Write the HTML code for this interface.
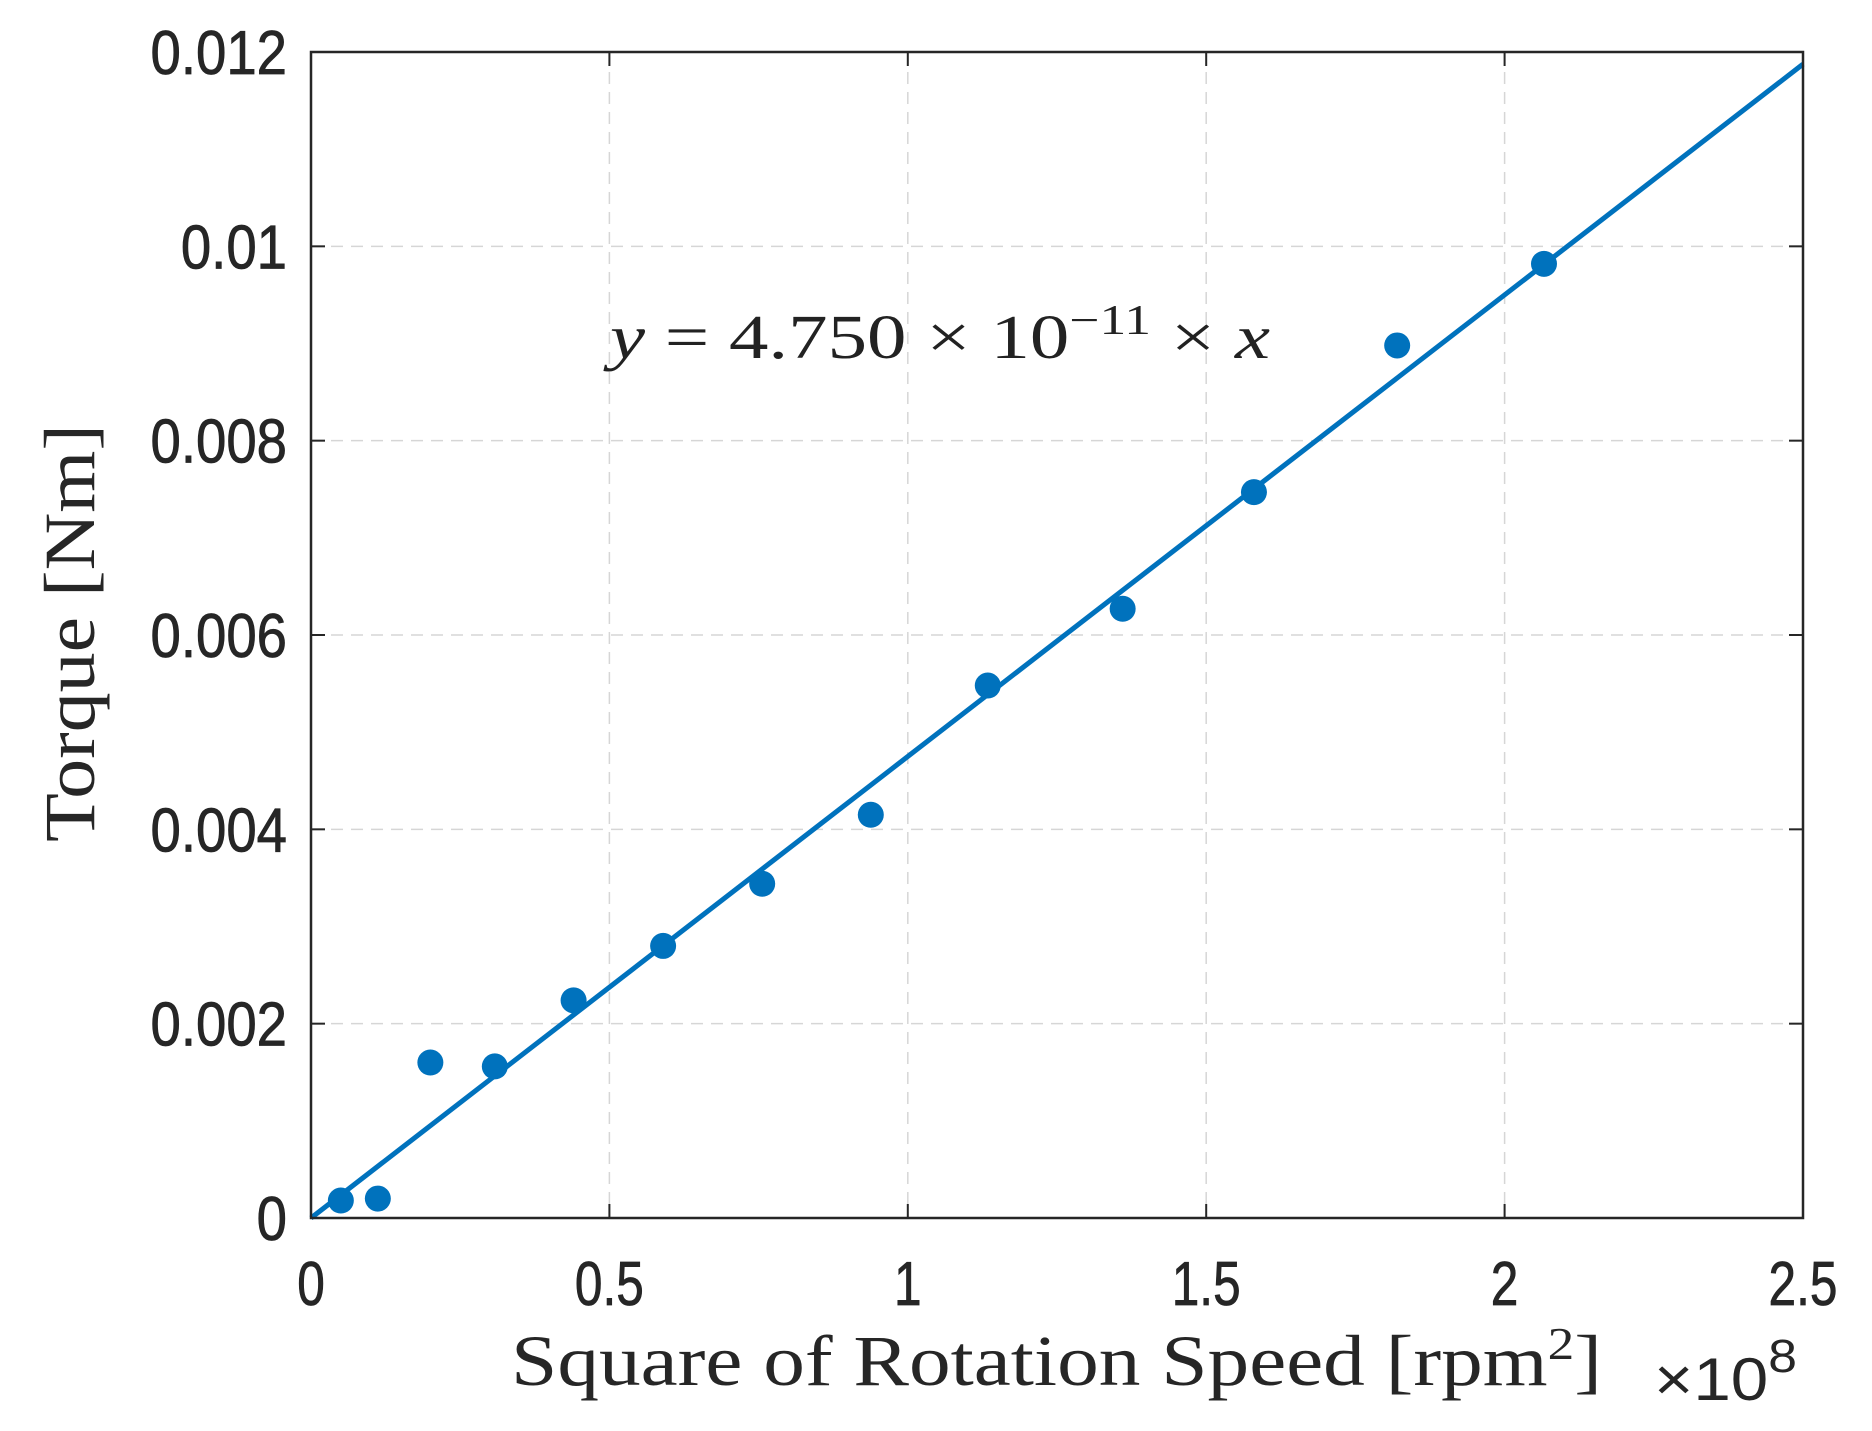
<!DOCTYPE html>
<html><head><meta charset="utf-8"><style>html,body{margin:0;padding:0;background:#fff}svg{display:block}</style></head>
<body>
<svg id="chart" width="1872" height="1431" xmlns="http://www.w3.org/2000/svg">
<g id="grid"></g>
<g id="fitline"></g>
<g id="points"></g>
<rect x="311" y="52" width="1492" height="1166" fill="none" stroke="#262626" stroke-width="2.5"/>
<g id="ticks"></g>
<text x="610" y="358" font-family="Liberation Serif, serif" font-size="62" fill="#222" textLength="660" lengthAdjust="spacingAndGlyphs"><tspan font-style="italic">y</tspan> = 4.750 × 10<tspan dy="-24" font-size="42">−11</tspan><tspan dy="24"> × </tspan><tspan font-style="italic">x</tspan></text>
<text x="511" y="1385" font-family="Liberation Serif, serif" font-size="72" fill="#262626" textLength="1091" lengthAdjust="spacingAndGlyphs">Square of Rotation Speed [rpm<tspan dy="-26" font-size="46">2</tspan><tspan dy="26">]</tspan></text>
<text x="1654" y="1400" font-family="Liberation Sans, sans-serif" font-size="60" fill="#262626" textLength="143" lengthAdjust="spacingAndGlyphs">×10<tspan dy="-28" font-size="46">8</tspan></text>
<text transform="translate(94,633) rotate(-90)" text-anchor="middle" font-family="Liberation Serif, serif" font-size="72" fill="#262626" textLength="418" lengthAdjust="spacingAndGlyphs">Torque [Nm]</text>
</svg>
<script>
const xVals = [0.05, 0.112, 0.2, 0.308, 0.44, 0.59, 0.756, 0.938, 1.134, 1.36, 1.58, 1.82, 2.066];
const yVals = [0.00018, 0.0002, 0.0016, 0.00156, 0.00224, 0.0028, 0.00344, 0.00415, 0.00548, 0.00627, 0.00747, 0.00898, 0.00982];
const slope = 4.75e-11;
const xTicks = [0, 0.5, 1, 1.5, 2, 2.5];
const xTickLabels = ["0", "0.5", "1", "1.5", "2", "2.5"];
const yTicks = [0, 0.002, 0.004, 0.006, 0.008, 0.01, 0.012];
const yTickLabels = ["0", "0.002", "0.004", "0.006", "0.008", "0.01", "0.012"];

const NS = "http://www.w3.org/2000/svg";
const L = 311, R = 1803, T = 52, B = 1218;
const xs = v => L + (v / 2.5) * (R - L);
const ys = v => B - (v / 0.012) * (B - T);
function mk(tag, attrs, parent) {
  const e = document.createElementNS(NS, tag);
  for (const k in attrs) e.setAttribute(k, attrs[k]);
  parent.appendChild(e);
  return e;
}
const grid = document.getElementById('grid');
const ticks = document.getElementById('ticks');
const tf = {'font-family': 'Liberation Sans, sans-serif', 'font-size': 62, fill: '#262626', stroke: '#262626', 'stroke-width': 0.8};
xTicks.forEach((t, i) => {
  const x = xs(t);
  if (i > 0 && i < xTicks.length - 1) {
    const g = mk('line', {x1: x, x2: x, y1: T, y2: B, stroke: '#d6d6d6', 'stroke-width': 1.5, 'stroke-dasharray': '12 8'}, grid);
    
    
  }
  const tk = mk('line', {x1: x, x2: x, y1: B, y2: B - 14, stroke: '#262626', 'stroke-width': 2}, ticks);
  
  
  const tk2 = mk('line', {x1: x, x2: x, y1: T, y2: T + 14, stroke: '#262626', 'stroke-width': 2}, ticks);
  
  
  const lb = mk('text', Object.assign({x: x, y: 1305, 'text-anchor': 'middle', transform: `translate(${x},0) scale(0.8,1) translate(${-x},0)`}, tf), ticks);
  lb.textContent = xTickLabels[i];
  
  
});
yTicks.forEach((t, i) => {
  const y = ys(t);
  if (i > 0 && i < yTicks.length - 1) {
    const g = mk('line', {x1: L, x2: R, y1: y, y2: y, stroke: '#d6d6d6', 'stroke-width': 1.5, 'stroke-dasharray': '12 8'}, grid);
    
    
  }
  const tk = mk('line', {x1: L, x2: L + 14, y1: y, y2: y, stroke: '#262626', 'stroke-width': 2}, ticks);
  
  
  const tk2 = mk('line', {x1: R, x2: R - 14, y1: y, y2: y, stroke: '#262626', 'stroke-width': 2}, ticks);
  
  
  const lb = mk('text', Object.assign({x: 287, y: y + 22, 'text-anchor': 'end', transform: `translate(287,0) scale(0.88,1) translate(-287,0)`}, tf), ticks);
  lb.textContent = yTickLabels[i];
  
  
});
const fl = mk('line', {x1: xs(0), y1: ys(0), x2: xs(2.5), y2: ys(slope * 2.5e8), stroke: '#0072BD', 'stroke-width': 5}, document.getElementById('fitline'));


const pts = document.getElementById('points');
xVals.forEach((v, i) => {
  const c = mk('circle', {cx: xs(v), cy: ys(yVals[i]), r: 13, fill: '#0072BD'}, pts);
  
  
});
</script>
</body></html>
